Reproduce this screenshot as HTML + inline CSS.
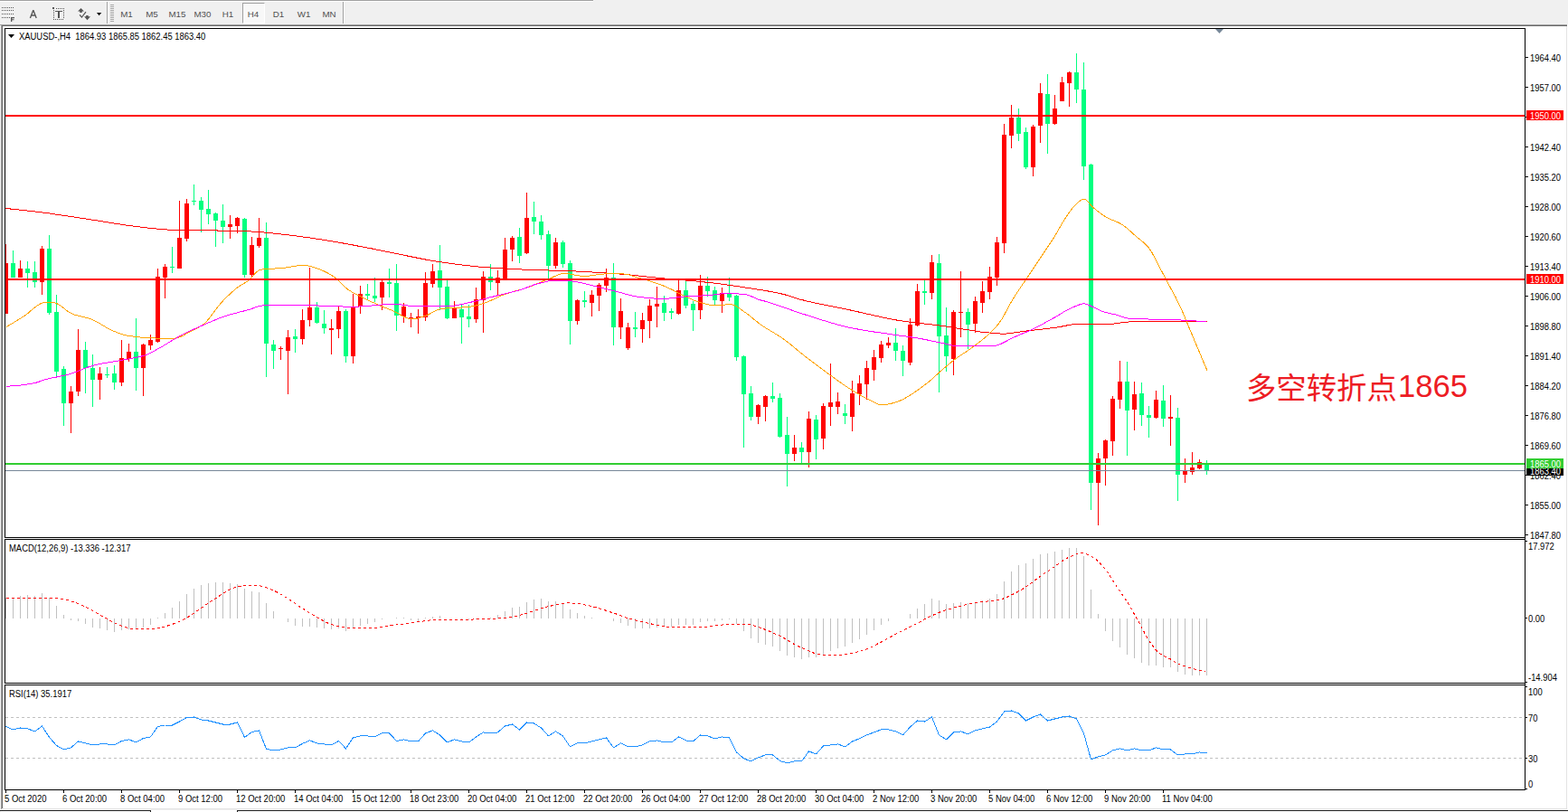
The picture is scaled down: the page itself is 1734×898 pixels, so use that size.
<!DOCTYPE html><html><head><meta charset="utf-8"><title>XAUUSD H4</title><style>
html,body{margin:0;padding:0;background:#fff;}
body{width:1734px;height:898px;position:relative;overflow:hidden;font-family:"Liberation Sans",sans-serif;}
.abs{position:absolute;}
.t{position:absolute;font-size:10px;line-height:10px;white-space:pre;color:#000;transform:scaleX(.94);transform-origin:0 0;}
.t2{transform:scaleX(.942);}
.t3{transform:scaleX(.95);}
.tb{position:absolute;font-size:9.7px;line-height:12px;white-space:pre;color:#505050;transform:scaleX(1.01);transform-origin:50% 0;text-align:center;width:28px;}
.w{color:#fff;}
svg{position:absolute;left:0;top:0;}

</style></head><body>
<div class="abs" style="left:0;top:0;width:1734px;height:27px;background:#f0f0f0"></div>
<div class="abs" style="left:0;top:0;width:656px;height:1px;background:#a0a0a0"></div>
<div class="abs" style="left:0;top:1px;width:656px;height:1px;background:#fff"></div>
<div class="abs" style="left:0;top:27px;width:1px;height:871px;background:#f0f0f0"></div>
<div class="abs" style="left:0;top:27px;width:1733px;height:1px;background:#a0a0a0"></div>
<div class="abs" style="left:1px;top:28px;width:1732px;height:1px;background:#696969"></div>
<div class="abs" style="left:1px;top:27px;width:1px;height:868px;background:#a0a0a0"></div>
<div class="abs" style="left:2px;top:28px;width:1px;height:866px;background:#696969"></div>
<div class="abs" style="left:1732px;top:29px;width:1px;height:866px;background:#e3e3e3"></div>
<div class="abs" style="left:3px;top:894px;width:1730px;height:1px;background:#e3e3e3"></div>
<div class="abs" style="left:0;top:895px;width:1734px;height:1px;background:#f0f0f0"></div>
<div class="abs" style="left:0;top:896px;width:167px;height:1px;background:#202020"></div>
<div class="abs" style="left:166px;top:896px;width:1px;height:2px;background:#202020"></div>
<div class="abs" style="left:262px;top:896px;width:1472px;height:1px;background:#202020"></div>
<div class="abs" style="left:262px;top:896px;width:1px;height:2px;background:#202020"></div>
<div class="abs" style="left:118px;top:2px;width:1px;height:24px;background:#a0a0a0"></div>
<div class="abs" style="left:119px;top:2px;width:1px;height:24px;background:#fff"></div>
<div class="abs" style="left:379px;top:2px;width:1px;height:24px;background:#a0a0a0"></div>
<div class="abs" style="left:380px;top:2px;width:1px;height:24px;background:#fff"></div>
<div class="abs" style="left:268px;top:3px;width:23px;height:21px;background:#f8f8f8;border:1px solid #a0a0a0;border-right-color:#fff;border-bottom-color:#fff"></div>
<div class="tb" style="left:126px;top:9.5px">M1</div>
<div class="tb" style="left:154px;top:9.5px">M5</div>
<div class="tb" style="left:182px;top:9.5px">M15</div>
<div class="tb" style="left:210px;top:9.5px">M30</div>
<div class="tb" style="left:238px;top:9.5px">H1</div>
<div class="tb" style="left:266px;top:9.5px">H4</div>
<div class="tb" style="left:294px;top:9.5px">D1</div>
<div class="tb" style="left:322px;top:9.5px">W1</div>
<div class="tb" style="left:350px;top:9.5px">MN</div>
<svg width="1734" height="898" viewBox="0 0 1734 898" shape-rendering="crispEdges">
<g fill="#555">
<rect x="122" y="5" width="4" height="1" fill="#a8a8a8"/>
<rect x="122" y="7" width="4" height="1" fill="#a8a8a8"/>
<rect x="122" y="9" width="4" height="1" fill="#a8a8a8"/>
<rect x="122" y="11" width="4" height="1" fill="#a8a8a8"/>
<rect x="122" y="13" width="4" height="1" fill="#a8a8a8"/>
<rect x="122" y="15" width="4" height="1" fill="#a8a8a8"/>
<rect x="122" y="17" width="4" height="1" fill="#a8a8a8"/>
<rect x="122" y="19" width="4" height="1" fill="#a8a8a8"/>
<rect x="122" y="21" width="4" height="1" fill="#a8a8a8"/>
<rect x="122" y="23" width="4" height="1" fill="#a8a8a8"/>
<rect x="2" y="8" width="1" height="1"/>
<rect x="4" y="8" width="1" height="1"/>
<rect x="6" y="8" width="1" height="1"/>
<rect x="8" y="8" width="1" height="1"/>
<rect x="10" y="8" width="1" height="1"/>
<rect x="12" y="8" width="1" height="1"/>
<rect x="14" y="8" width="1" height="1"/>
<rect x="2" y="11" width="1" height="1"/>
<rect x="4" y="11" width="1" height="1"/>
<rect x="6" y="11" width="1" height="1"/>
<rect x="8" y="11" width="1" height="1"/>
<rect x="10" y="11" width="1" height="1"/>
<rect x="12" y="11" width="1" height="1"/>
<rect x="14" y="11" width="1" height="1"/>
<rect x="2" y="15" width="1" height="1"/>
<rect x="4" y="15" width="1" height="1"/>
<rect x="6" y="15" width="1" height="1"/>
<rect x="8" y="15" width="1" height="1"/>
<rect x="10" y="15" width="1" height="1"/>
<rect x="12" y="15" width="1" height="1"/>
<rect x="14" y="15" width="1" height="1"/>
<rect x="2" y="19" width="1" height="1"/>
<rect x="4" y="19" width="1" height="1"/>
<rect x="6" y="19" width="1" height="1"/>
<rect x="8" y="19" width="1" height="1"/>
<rect x="10" y="19" width="1" height="1"/>
<path d="M12 19h4v1.2h-2.7v1h2.2v1.1h-2.2v1.7h-1.3z" shape-rendering="auto"/>
<rect x="62" y="9" width="1" height="1"/>
<rect x="64" y="9" width="1" height="1"/>
<rect x="66" y="9" width="1" height="1"/>
<rect x="68" y="9" width="1" height="1"/>
<rect x="70" y="9" width="1" height="1"/>
<rect x="59" y="21" width="1" height="1"/>
<rect x="61" y="21" width="1" height="1"/>
<rect x="63" y="21" width="1" height="1"/>
<rect x="65" y="21" width="1" height="1"/>
<rect x="67" y="21" width="1" height="1"/>
<rect x="69" y="21" width="1" height="1"/>
<rect x="59" y="11" width="1" height="1"/><rect x="70" y="11" width="1" height="1"/>
<rect x="59" y="13" width="1" height="1"/><rect x="70" y="13" width="1" height="1"/>
<rect x="59" y="15" width="1" height="1"/><rect x="70" y="15" width="1" height="1"/>
<rect x="59" y="17" width="1" height="1"/><rect x="70" y="17" width="1" height="1"/>
<rect x="59" y="19" width="1" height="1"/><rect x="70" y="19" width="1" height="1"/>
<rect x="58" y="8" width="2" height="2"/>
<rect x="61" y="12" width="8" height="1"/><rect x="64" y="13" width="2" height="7"/>
<path d="M86 12.5L89.5 9L93 12.5H90.7V14H88.3V12.5z M93.1 18.3L96.5 22.2L100 18.3H97.6V17H95.2V18.3z" shape-rendering="auto"/>
<polyline points="88,16.3 90.4,19 95,13.1" fill="none" stroke="#555" stroke-width="1.2" shape-rendering="auto"/>
<path d="M106.9 14h5.4l-2.7 3.2z" fill="#111" shape-rendering="auto"/>
</g>
<path d="M33.4 20L36.8 11.2L40.2 20M34.7 17H38.9" fill="none" stroke="#555" stroke-width="1.35" stroke-linejoin="bevel" shape-rendering="auto"/>
<path d="M1344 32h9l-4.5 5z" fill="#778899" shape-rendering="auto"/>
<rect x="6" y="270" width="1" height="77" fill="#ff0000"/>
<rect x="4" y="291" width="5" height="56" fill="#ff0000"/>
<rect x="14" y="277" width="1" height="30" fill="#00ff7f"/>
<rect x="12" y="291" width="5" height="16" fill="#00ff7f"/>
<rect x="22" y="288" width="1" height="19" fill="#ff0000"/>
<rect x="20" y="297" width="5" height="10" fill="#ff0000"/>
<rect x="30" y="289" width="1" height="29" fill="#00ff7f"/>
<rect x="28" y="297" width="5" height="5" fill="#00ff7f"/>
<rect x="38" y="289" width="1" height="29" fill="#00ff7f"/>
<rect x="36" y="301" width="5" height="11" fill="#00ff7f"/>
<rect x="46" y="272" width="1" height="54" fill="#ff0000"/>
<rect x="44" y="275" width="5" height="37" fill="#ff0000"/>
<rect x="54" y="260" width="1" height="88" fill="#00ff7f"/>
<rect x="52" y="275" width="5" height="71" fill="#00ff7f"/>
<rect x="62" y="326" width="1" height="90" fill="#00ff7f"/>
<rect x="60" y="345" width="5" height="66" fill="#00ff7f"/>
<rect x="70" y="405" width="1" height="66" fill="#00ff7f"/>
<rect x="68" y="408" width="5" height="38" fill="#00ff7f"/>
<rect x="78" y="427" width="1" height="52" fill="#ff0000"/>
<rect x="76" y="433" width="5" height="13" fill="#ff0000"/>
<rect x="86" y="364" width="1" height="74" fill="#ff0000"/>
<rect x="84" y="387" width="5" height="46" fill="#ff0000"/>
<rect x="94" y="378" width="1" height="57" fill="#00ff7f"/>
<rect x="92" y="387" width="5" height="20" fill="#00ff7f"/>
<rect x="102" y="392" width="1" height="58" fill="#00ff7f"/>
<rect x="100" y="407" width="5" height="13" fill="#00ff7f"/>
<rect x="110" y="406" width="1" height="36" fill="#ff0000"/>
<rect x="108" y="413" width="5" height="7" fill="#ff0000"/>
<rect x="118" y="406" width="1" height="12" fill="#00ff7f"/>
<rect x="116" y="414" width="5" height="1" fill="#00ff7f"/>
<rect x="126" y="404" width="1" height="27" fill="#00ff7f"/>
<rect x="124" y="413" width="5" height="10" fill="#00ff7f"/>
<rect x="134" y="376" width="1" height="51" fill="#ff0000"/>
<rect x="132" y="396" width="5" height="27" fill="#ff0000"/>
<rect x="142" y="380" width="1" height="20" fill="#ff0000"/>
<rect x="140" y="389" width="5" height="8" fill="#ff0000"/>
<rect x="150" y="352" width="1" height="80" fill="#00ff7f"/>
<rect x="148" y="389" width="5" height="18" fill="#00ff7f"/>
<rect x="158" y="380" width="1" height="58" fill="#ff0000"/>
<rect x="156" y="381" width="5" height="26" fill="#ff0000"/>
<rect x="166" y="370" width="1" height="17" fill="#ff0000"/>
<rect x="164" y="376" width="5" height="6" fill="#ff0000"/>
<rect x="174" y="297" width="1" height="82" fill="#ff0000"/>
<rect x="172" y="306" width="5" height="72" fill="#ff0000"/>
<rect x="182" y="292" width="1" height="38" fill="#ff0000"/>
<rect x="180" y="295" width="5" height="12" fill="#ff0000"/>
<rect x="190" y="273" width="1" height="29" fill="#00ff7f"/>
<rect x="188" y="295" width="5" height="1" fill="#00ff7f"/>
<rect x="198" y="222" width="1" height="75" fill="#ff0000"/>
<rect x="196" y="263" width="5" height="34" fill="#ff0000"/>
<rect x="206" y="220" width="1" height="47" fill="#ff0000"/>
<rect x="204" y="225" width="5" height="39" fill="#ff0000"/>
<rect x="214" y="204" width="1" height="23" fill="#00ff7f"/>
<rect x="212" y="222" width="5" height="1" fill="#00ff7f"/>
<rect x="222" y="218" width="1" height="39" fill="#00ff7f"/>
<rect x="220" y="222" width="5" height="10" fill="#00ff7f"/>
<rect x="230" y="210" width="1" height="38" fill="#00ff7f"/>
<rect x="228" y="231" width="5" height="6" fill="#00ff7f"/>
<rect x="238" y="235" width="1" height="38" fill="#00ff7f"/>
<rect x="236" y="236" width="5" height="8" fill="#00ff7f"/>
<rect x="246" y="226" width="1" height="43" fill="#00ff7f"/>
<rect x="244" y="244" width="5" height="7" fill="#00ff7f"/>
<rect x="254" y="238" width="1" height="26" fill="#ff0000"/>
<rect x="252" y="248" width="5" height="3" fill="#ff0000"/>
<rect x="262" y="240" width="1" height="18" fill="#ff0000"/>
<rect x="260" y="241" width="5" height="9" fill="#ff0000"/>
<rect x="270" y="241" width="1" height="66" fill="#00ff7f"/>
<rect x="268" y="242" width="5" height="62" fill="#00ff7f"/>
<rect x="278" y="262" width="1" height="45" fill="#ff0000"/>
<rect x="276" y="271" width="5" height="33" fill="#ff0000"/>
<rect x="286" y="241" width="1" height="33" fill="#ff0000"/>
<rect x="284" y="263" width="5" height="9" fill="#ff0000"/>
<rect x="294" y="246" width="1" height="171" fill="#00ff7f"/>
<rect x="292" y="263" width="5" height="117" fill="#00ff7f"/>
<rect x="302" y="376" width="1" height="32" fill="#00ff7f"/>
<rect x="300" y="381" width="5" height="7" fill="#00ff7f"/>
<rect x="310" y="383" width="1" height="15" fill="#ff0000"/>
<rect x="308" y="385" width="5" height="1" fill="#ff0000"/>
<rect x="318" y="365" width="1" height="71" fill="#ff0000"/>
<rect x="316" y="373" width="5" height="15" fill="#ff0000"/>
<rect x="326" y="364" width="1" height="26" fill="#00ff7f"/>
<rect x="324" y="372" width="5" height="3" fill="#00ff7f"/>
<rect x="334" y="342" width="1" height="39" fill="#ff0000"/>
<rect x="332" y="354" width="5" height="21" fill="#ff0000"/>
<rect x="342" y="296" width="1" height="65" fill="#ff0000"/>
<rect x="340" y="340" width="5" height="14" fill="#ff0000"/>
<rect x="350" y="334" width="1" height="24" fill="#00ff7f"/>
<rect x="348" y="340" width="5" height="17" fill="#00ff7f"/>
<rect x="358" y="343" width="1" height="26" fill="#00ff7f"/>
<rect x="356" y="358" width="5" height="5" fill="#00ff7f"/>
<rect x="366" y="353" width="1" height="39" fill="#ff0000"/>
<rect x="364" y="363" width="5" height="2" fill="#ff0000"/>
<rect x="374" y="338" width="1" height="36" fill="#ff0000"/>
<rect x="372" y="344" width="5" height="20" fill="#ff0000"/>
<rect x="382" y="342" width="1" height="59" fill="#00ff7f"/>
<rect x="380" y="344" width="5" height="50" fill="#00ff7f"/>
<rect x="390" y="325" width="1" height="77" fill="#ff0000"/>
<rect x="388" y="339" width="5" height="55" fill="#ff0000"/>
<rect x="398" y="316" width="1" height="31" fill="#ff0000"/>
<rect x="396" y="325" width="5" height="14" fill="#ff0000"/>
<rect x="406" y="314" width="1" height="17" fill="#00ff7f"/>
<rect x="404" y="325" width="5" height="2" fill="#00ff7f"/>
<rect x="414" y="307" width="1" height="27" fill="#00ff7f"/>
<rect x="412" y="327" width="5" height="3" fill="#00ff7f"/>
<rect x="422" y="310" width="1" height="33" fill="#ff0000"/>
<rect x="420" y="312" width="5" height="17" fill="#ff0000"/>
<rect x="430" y="297" width="1" height="32" fill="#00ff7f"/>
<rect x="428" y="312" width="5" height="2" fill="#00ff7f"/>
<rect x="438" y="292" width="1" height="74" fill="#00ff7f"/>
<rect x="436" y="313" width="5" height="36" fill="#00ff7f"/>
<rect x="446" y="335" width="1" height="22" fill="#ff0000"/>
<rect x="444" y="339" width="5" height="11" fill="#ff0000"/>
<rect x="454" y="346" width="1" height="16" fill="#ff0000"/>
<rect x="452" y="351" width="5" height="2" fill="#ff0000"/>
<rect x="462" y="342" width="1" height="27" fill="#ff0000"/>
<rect x="460" y="350" width="5" height="2" fill="#ff0000"/>
<rect x="470" y="301" width="1" height="54" fill="#ff0000"/>
<rect x="468" y="313" width="5" height="38" fill="#ff0000"/>
<rect x="478" y="292" width="1" height="26" fill="#ff0000"/>
<rect x="476" y="300" width="5" height="14" fill="#ff0000"/>
<rect x="486" y="271" width="1" height="72" fill="#00ff7f"/>
<rect x="484" y="299" width="5" height="19" fill="#00ff7f"/>
<rect x="494" y="310" width="1" height="43" fill="#00ff7f"/>
<rect x="492" y="317" width="5" height="35" fill="#00ff7f"/>
<rect x="502" y="333" width="1" height="19" fill="#ff0000"/>
<rect x="500" y="341" width="5" height="11" fill="#ff0000"/>
<rect x="510" y="337" width="1" height="43" fill="#00ff7f"/>
<rect x="508" y="342" width="5" height="9" fill="#00ff7f"/>
<rect x="518" y="337" width="1" height="25" fill="#00ff7f"/>
<rect x="516" y="350" width="5" height="3" fill="#00ff7f"/>
<rect x="526" y="318" width="1" height="39" fill="#ff0000"/>
<rect x="524" y="331" width="5" height="22" fill="#ff0000"/>
<rect x="534" y="300" width="1" height="68" fill="#ff0000"/>
<rect x="532" y="306" width="5" height="26" fill="#ff0000"/>
<rect x="542" y="292" width="1" height="29" fill="#00ff7f"/>
<rect x="540" y="306" width="5" height="6" fill="#00ff7f"/>
<rect x="550" y="299" width="1" height="28" fill="#ff0000"/>
<rect x="548" y="307" width="5" height="6" fill="#ff0000"/>
<rect x="558" y="263" width="1" height="47" fill="#ff0000"/>
<rect x="556" y="276" width="5" height="34" fill="#ff0000"/>
<rect x="566" y="261" width="1" height="28" fill="#ff0000"/>
<rect x="564" y="263" width="5" height="13" fill="#ff0000"/>
<rect x="574" y="252" width="1" height="39" fill="#00ff7f"/>
<rect x="572" y="262" width="5" height="21" fill="#00ff7f"/>
<rect x="582" y="213" width="1" height="68" fill="#ff0000"/>
<rect x="580" y="241" width="5" height="39" fill="#ff0000"/>
<rect x="590" y="223" width="1" height="36" fill="#00ff7f"/>
<rect x="588" y="240" width="5" height="5" fill="#00ff7f"/>
<rect x="598" y="238" width="1" height="27" fill="#00ff7f"/>
<rect x="596" y="245" width="5" height="15" fill="#00ff7f"/>
<rect x="606" y="255" width="1" height="53" fill="#00ff7f"/>
<rect x="604" y="259" width="5" height="35" fill="#00ff7f"/>
<rect x="614" y="263" width="1" height="34" fill="#ff0000"/>
<rect x="612" y="268" width="5" height="26" fill="#ff0000"/>
<rect x="622" y="266" width="1" height="30" fill="#00ff7f"/>
<rect x="620" y="268" width="5" height="24" fill="#00ff7f"/>
<rect x="630" y="288" width="1" height="93" fill="#00ff7f"/>
<rect x="628" y="291" width="5" height="64" fill="#00ff7f"/>
<rect x="638" y="331" width="1" height="28" fill="#ff0000"/>
<rect x="636" y="332" width="5" height="23" fill="#ff0000"/>
<rect x="646" y="322" width="1" height="18" fill="#00ff7f"/>
<rect x="644" y="332" width="5" height="2" fill="#00ff7f"/>
<rect x="654" y="321" width="1" height="29" fill="#ff0000"/>
<rect x="652" y="326" width="5" height="9" fill="#ff0000"/>
<rect x="662" y="313" width="1" height="31" fill="#ff0000"/>
<rect x="660" y="315" width="5" height="12" fill="#ff0000"/>
<rect x="670" y="297" width="1" height="26" fill="#ff0000"/>
<rect x="668" y="307" width="5" height="9" fill="#ff0000"/>
<rect x="678" y="291" width="1" height="91" fill="#00ff7f"/>
<rect x="676" y="307" width="5" height="55" fill="#00ff7f"/>
<rect x="686" y="330" width="1" height="45" fill="#ff0000"/>
<rect x="684" y="344" width="5" height="18" fill="#ff0000"/>
<rect x="694" y="357" width="1" height="30" fill="#ff0000"/>
<rect x="692" y="362" width="5" height="23" fill="#ff0000"/>
<rect x="702" y="345" width="1" height="28" fill="#00ff7f"/>
<rect x="700" y="362" width="5" height="2" fill="#00ff7f"/>
<rect x="710" y="346" width="1" height="33" fill="#ff0000"/>
<rect x="708" y="354" width="5" height="10" fill="#ff0000"/>
<rect x="718" y="331" width="1" height="43" fill="#ff0000"/>
<rect x="716" y="338" width="5" height="17" fill="#ff0000"/>
<rect x="726" y="317" width="1" height="45" fill="#ff0000"/>
<rect x="724" y="336" width="5" height="3" fill="#ff0000"/>
<rect x="734" y="327" width="1" height="28" fill="#00ff7f"/>
<rect x="732" y="335" width="5" height="11" fill="#00ff7f"/>
<rect x="742" y="341" width="1" height="12" fill="#00ff7f"/>
<rect x="740" y="344" width="5" height="2" fill="#00ff7f"/>
<rect x="750" y="309" width="1" height="39" fill="#ff0000"/>
<rect x="748" y="321" width="5" height="26" fill="#ff0000"/>
<rect x="758" y="310" width="1" height="31" fill="#00ff7f"/>
<rect x="756" y="321" width="5" height="17" fill="#00ff7f"/>
<rect x="766" y="333" width="1" height="33" fill="#00ff7f"/>
<rect x="764" y="336" width="5" height="7" fill="#00ff7f"/>
<rect x="774" y="304" width="1" height="49" fill="#ff0000"/>
<rect x="772" y="316" width="5" height="27" fill="#ff0000"/>
<rect x="782" y="306" width="1" height="22" fill="#00ff7f"/>
<rect x="780" y="316" width="5" height="6" fill="#00ff7f"/>
<rect x="790" y="317" width="1" height="21" fill="#00ff7f"/>
<rect x="788" y="321" width="5" height="11" fill="#00ff7f"/>
<rect x="798" y="318" width="1" height="28" fill="#ff0000"/>
<rect x="796" y="324" width="5" height="9" fill="#ff0000"/>
<rect x="806" y="307" width="1" height="26" fill="#00ff7f"/>
<rect x="804" y="324" width="5" height="5" fill="#00ff7f"/>
<rect x="814" y="326" width="1" height="73" fill="#00ff7f"/>
<rect x="812" y="327" width="5" height="68" fill="#00ff7f"/>
<rect x="822" y="393" width="1" height="102" fill="#00ff7f"/>
<rect x="820" y="394" width="5" height="42" fill="#00ff7f"/>
<rect x="830" y="427" width="1" height="38" fill="#00ff7f"/>
<rect x="828" y="435" width="5" height="26" fill="#00ff7f"/>
<rect x="838" y="447" width="1" height="22" fill="#ff0000"/>
<rect x="836" y="448" width="5" height="13" fill="#ff0000"/>
<rect x="846" y="437" width="1" height="29" fill="#ff0000"/>
<rect x="844" y="438" width="5" height="12" fill="#ff0000"/>
<rect x="854" y="423" width="1" height="22" fill="#00ff7f"/>
<rect x="852" y="438" width="5" height="3" fill="#00ff7f"/>
<rect x="862" y="435" width="1" height="49" fill="#00ff7f"/>
<rect x="860" y="440" width="5" height="43" fill="#00ff7f"/>
<rect x="870" y="461" width="1" height="77" fill="#00ff7f"/>
<rect x="868" y="481" width="5" height="21" fill="#00ff7f"/>
<rect x="878" y="481" width="1" height="29" fill="#ff0000"/>
<rect x="876" y="495" width="5" height="7" fill="#ff0000"/>
<rect x="886" y="489" width="1" height="23" fill="#00ff7f"/>
<rect x="884" y="495" width="5" height="5" fill="#00ff7f"/>
<rect x="894" y="455" width="1" height="62" fill="#ff0000"/>
<rect x="892" y="463" width="5" height="37" fill="#ff0000"/>
<rect x="902" y="459" width="1" height="49" fill="#00ff7f"/>
<rect x="900" y="464" width="5" height="22" fill="#00ff7f"/>
<rect x="910" y="446" width="1" height="51" fill="#ff0000"/>
<rect x="908" y="449" width="5" height="36" fill="#ff0000"/>
<rect x="918" y="402" width="1" height="69" fill="#ff0000"/>
<rect x="916" y="445" width="5" height="5" fill="#ff0000"/>
<rect x="926" y="434" width="1" height="24" fill="#ff0000"/>
<rect x="924" y="444" width="5" height="6" fill="#ff0000"/>
<rect x="934" y="447" width="1" height="22" fill="#00ff7f"/>
<rect x="932" y="457" width="5" height="3" fill="#00ff7f"/>
<rect x="942" y="421" width="1" height="56" fill="#ff0000"/>
<rect x="940" y="435" width="5" height="26" fill="#ff0000"/>
<rect x="950" y="415" width="1" height="33" fill="#ff0000"/>
<rect x="948" y="424" width="5" height="12" fill="#ff0000"/>
<rect x="958" y="399" width="1" height="43" fill="#ff0000"/>
<rect x="956" y="407" width="5" height="18" fill="#ff0000"/>
<rect x="966" y="387" width="1" height="34" fill="#ff0000"/>
<rect x="964" y="395" width="5" height="14" fill="#ff0000"/>
<rect x="974" y="377" width="1" height="24" fill="#ff0000"/>
<rect x="972" y="381" width="5" height="15" fill="#ff0000"/>
<rect x="982" y="373" width="1" height="12" fill="#ff0000"/>
<rect x="980" y="379" width="5" height="3" fill="#ff0000"/>
<rect x="990" y="363" width="1" height="36" fill="#00ff7f"/>
<rect x="988" y="379" width="5" height="9" fill="#00ff7f"/>
<rect x="998" y="382" width="1" height="34" fill="#00ff7f"/>
<rect x="996" y="388" width="5" height="11" fill="#00ff7f"/>
<rect x="1006" y="352" width="1" height="52" fill="#ff0000"/>
<rect x="1004" y="359" width="5" height="42" fill="#ff0000"/>
<rect x="1014" y="314" width="1" height="47" fill="#ff0000"/>
<rect x="1012" y="322" width="5" height="38" fill="#ff0000"/>
<rect x="1022" y="310" width="1" height="27" fill="#00ff7f"/>
<rect x="1020" y="322" width="5" height="2" fill="#00ff7f"/>
<rect x="1030" y="282" width="1" height="49" fill="#ff0000"/>
<rect x="1028" y="290" width="5" height="34" fill="#ff0000"/>
<rect x="1038" y="281" width="1" height="153" fill="#00ff7f"/>
<rect x="1036" y="291" width="5" height="81" fill="#00ff7f"/>
<rect x="1046" y="340" width="1" height="71" fill="#00ff7f"/>
<rect x="1044" y="371" width="5" height="23" fill="#00ff7f"/>
<rect x="1054" y="343" width="1" height="72" fill="#ff0000"/>
<rect x="1052" y="345" width="5" height="52" fill="#ff0000"/>
<rect x="1062" y="300" width="1" height="73" fill="#ff0000"/>
<rect x="1060" y="345" width="5" height="1" fill="#ff0000"/>
<rect x="1070" y="341" width="1" height="45" fill="#00ff7f"/>
<rect x="1068" y="345" width="5" height="14" fill="#00ff7f"/>
<rect x="1078" y="328" width="1" height="40" fill="#ff0000"/>
<rect x="1076" y="333" width="5" height="25" fill="#ff0000"/>
<rect x="1086" y="311" width="1" height="35" fill="#ff0000"/>
<rect x="1084" y="322" width="5" height="13" fill="#ff0000"/>
<rect x="1094" y="295" width="1" height="36" fill="#ff0000"/>
<rect x="1092" y="306" width="5" height="17" fill="#ff0000"/>
<rect x="1102" y="262" width="1" height="54" fill="#ff0000"/>
<rect x="1100" y="268" width="5" height="39" fill="#ff0000"/>
<rect x="1110" y="137" width="1" height="143" fill="#ff0000"/>
<rect x="1108" y="149" width="5" height="120" fill="#ff0000"/>
<rect x="1118" y="116" width="1" height="48" fill="#ff0000"/>
<rect x="1116" y="130" width="5" height="20" fill="#ff0000"/>
<rect x="1126" y="120" width="1" height="36" fill="#00ff7f"/>
<rect x="1124" y="130" width="5" height="18" fill="#00ff7f"/>
<rect x="1134" y="141" width="1" height="46" fill="#00ff7f"/>
<rect x="1132" y="146" width="5" height="39" fill="#00ff7f"/>
<rect x="1142" y="138" width="1" height="57" fill="#ff0000"/>
<rect x="1140" y="140" width="5" height="45" fill="#ff0000"/>
<rect x="1150" y="92" width="1" height="66" fill="#ff0000"/>
<rect x="1148" y="103" width="5" height="36" fill="#ff0000"/>
<rect x="1158" y="82" width="1" height="88" fill="#00ff7f"/>
<rect x="1156" y="104" width="5" height="33" fill="#00ff7f"/>
<rect x="1166" y="105" width="1" height="33" fill="#ff0000"/>
<rect x="1164" y="120" width="5" height="17" fill="#ff0000"/>
<rect x="1174" y="85" width="1" height="27" fill="#ff0000"/>
<rect x="1172" y="91" width="5" height="21" fill="#ff0000"/>
<rect x="1182" y="79" width="1" height="39" fill="#ff0000"/>
<rect x="1180" y="80" width="5" height="12" fill="#ff0000"/>
<rect x="1190" y="59" width="1" height="55" fill="#00ff7f"/>
<rect x="1188" y="80" width="5" height="19" fill="#00ff7f"/>
<rect x="1198" y="69" width="1" height="130" fill="#00ff7f"/>
<rect x="1196" y="99" width="5" height="85" fill="#00ff7f"/>
<rect x="1206" y="181" width="1" height="383" fill="#00ff7f"/>
<rect x="1204" y="182" width="5" height="352" fill="#00ff7f"/>
<rect x="1214" y="501" width="1" height="80" fill="#ff0000"/>
<rect x="1212" y="507" width="5" height="27" fill="#ff0000"/>
<rect x="1222" y="486" width="1" height="51" fill="#ff0000"/>
<rect x="1220" y="487" width="5" height="20" fill="#ff0000"/>
<rect x="1230" y="438" width="1" height="66" fill="#ff0000"/>
<rect x="1228" y="441" width="5" height="47" fill="#ff0000"/>
<rect x="1238" y="399" width="1" height="53" fill="#ff0000"/>
<rect x="1236" y="422" width="5" height="20" fill="#ff0000"/>
<rect x="1246" y="400" width="1" height="104" fill="#00ff7f"/>
<rect x="1244" y="422" width="5" height="32" fill="#00ff7f"/>
<rect x="1254" y="422" width="1" height="54" fill="#ff0000"/>
<rect x="1252" y="436" width="5" height="17" fill="#ff0000"/>
<rect x="1262" y="423" width="1" height="48" fill="#00ff7f"/>
<rect x="1260" y="435" width="5" height="24" fill="#00ff7f"/>
<rect x="1270" y="449" width="1" height="35" fill="#00ff7f"/>
<rect x="1268" y="459" width="5" height="3" fill="#00ff7f"/>
<rect x="1278" y="432" width="1" height="31" fill="#ff0000"/>
<rect x="1276" y="442" width="5" height="20" fill="#ff0000"/>
<rect x="1286" y="426" width="1" height="46" fill="#00ff7f"/>
<rect x="1284" y="443" width="5" height="20" fill="#00ff7f"/>
<rect x="1294" y="437" width="1" height="56" fill="#ff0000"/>
<rect x="1292" y="461" width="5" height="2" fill="#ff0000"/>
<rect x="1302" y="451" width="1" height="103" fill="#00ff7f"/>
<rect x="1300" y="462" width="5" height="63" fill="#00ff7f"/>
<rect x="1310" y="507" width="1" height="27" fill="#ff0000"/>
<rect x="1308" y="520" width="5" height="5" fill="#ff0000"/>
<rect x="1318" y="500" width="1" height="25" fill="#ff0000"/>
<rect x="1316" y="517" width="5" height="5" fill="#ff0000"/>
<rect x="1326" y="508" width="1" height="11" fill="#ff0000"/>
<rect x="1324" y="511" width="5" height="7" fill="#ff0000"/>
<rect x="1334" y="509" width="1" height="16" fill="#00ff7f"/>
<rect x="1332" y="513" width="5" height="8" fill="#00ff7f"/>
<polyline points="6.5,230.5 9.5,230.8 12.5,231.1 15.5,231.4 18.5,231.7 21.5,232.1 24.5,232.4 27.5,232.7 30.5,233.1 33.5,233.4 36.5,233.8 39.5,234.1 42.5,234.5 45.5,234.9 48.5,235.2 51.5,235.6 54.5,236.0 57.5,236.4 60.5,236.9 63.5,237.3 66.5,237.7 69.5,238.2 72.5,238.6 75.5,239.1 78.5,239.5 81.5,240.0 84.5,240.4 87.5,240.9 90.5,241.4 93.5,241.8 96.5,242.3 99.5,242.7 102.5,243.2 105.5,243.7 108.5,244.1 111.5,244.6 114.5,245.1 117.5,245.6 120.5,246.1 123.5,246.6 126.5,247.1 129.5,247.6 132.5,248.0 135.5,248.5 138.5,248.9 141.5,249.4 144.5,249.8 147.5,250.1 150.5,250.5 153.5,250.8 156.5,251.2 159.5,251.6 162.5,251.9 165.5,252.3 168.5,252.6 171.5,252.9 174.5,253.2 177.5,253.5 180.5,253.7 183.5,253.9 186.5,254.1 189.5,254.2 192.5,254.2 195.5,254.3 198.5,254.4 201.5,254.4 204.5,254.4 207.5,254.5 210.5,254.5 213.5,254.5 216.5,254.6 219.5,254.6 222.5,254.7 225.5,254.7 228.5,254.8 231.5,254.8 234.5,254.9 237.5,254.9 240.5,255.0 243.5,255.0 246.5,255.1 249.5,255.1 252.5,255.2 255.5,255.3 258.5,255.4 261.5,255.4 264.5,255.5 267.5,255.6 270.5,255.7 273.5,255.8 276.5,255.9 279.5,256.1 282.5,256.3 285.5,256.5 288.5,256.8 291.5,257.0 294.5,257.3 297.5,257.6 300.5,257.9 303.5,258.2 306.5,258.5 309.5,258.8 312.5,259.2 315.5,259.5 318.5,259.9 321.5,260.2 324.5,260.6 327.5,261.0 330.5,261.4 333.5,261.8 336.5,262.2 339.5,262.6 342.5,263.0 345.5,263.5 348.5,263.9 351.5,264.3 354.5,264.8 357.5,265.3 360.5,265.7 363.5,266.2 366.5,266.7 369.5,267.2 372.5,267.8 375.5,268.3 378.5,268.8 381.5,269.4 384.5,269.9 387.5,270.5 390.5,271.0 393.5,271.6 396.5,272.2 399.5,272.7 402.5,273.3 405.5,273.9 408.5,274.4 411.5,275.0 414.5,275.6 417.5,276.3 420.5,276.9 423.5,277.5 426.5,278.1 429.5,278.7 432.5,279.3 435.5,279.9 438.5,280.5 441.5,281.1 444.5,281.7 447.5,282.4 450.5,283.0 453.5,283.6 456.5,284.2 459.5,284.8 462.5,285.4 465.5,286.0 468.5,286.6 471.5,287.2 474.5,287.7 477.5,288.2 480.5,288.7 483.5,289.2 486.5,289.7 489.5,290.1 492.5,290.5 495.5,291.0 498.5,291.4 501.5,291.8 504.5,292.2 507.5,292.6 510.5,293.0 513.5,293.4 516.5,293.7 519.5,294.0 522.5,294.4 525.5,294.7 528.5,295.0 531.5,295.2 534.5,295.5 537.5,295.7 540.5,295.9 543.5,296.2 546.5,296.4 549.5,296.6 552.5,296.8 555.5,297.0 558.5,297.1 561.5,297.3 564.5,297.5 567.5,297.6 570.5,297.8 573.5,297.9 576.5,298.0 579.5,298.1 582.5,298.3 585.5,298.4 588.5,298.5 591.5,298.6 594.5,298.7 597.5,298.7 600.5,298.8 603.5,298.9 606.5,299.0 609.5,299.1 612.5,299.2 615.5,299.3 618.5,299.3 621.5,299.4 624.5,299.5 627.5,299.7 630.5,299.8 633.5,299.9 636.5,300.0 639.5,300.2 642.5,300.3 645.5,300.5 648.5,300.6 651.5,300.8 654.5,301.0 657.5,301.1 660.5,301.3 663.5,301.5 666.5,301.7 669.5,301.9 672.5,302.1 675.5,302.3 678.5,302.5 681.5,302.8 684.5,303.0 687.5,303.2 690.5,303.5 693.5,303.7 696.5,304.0 699.5,304.3 702.5,304.6 705.5,305.0 708.5,305.3 711.5,305.6 714.5,305.9 717.5,306.3 720.5,306.6 723.5,306.9 726.5,307.2 729.5,307.5 732.5,307.8 735.5,308.1 738.5,308.4 741.5,308.6 744.5,308.9 747.5,309.1 750.5,309.4 753.5,309.6 756.5,309.9 759.5,310.1 762.5,310.4 765.5,310.7 768.5,310.9 771.5,311.2 774.5,311.5 777.5,311.8 780.5,312.1 783.5,312.4 786.5,312.7 789.5,313.1 792.5,313.5 795.5,313.8 798.5,314.2 801.5,314.6 804.5,315.1 807.5,315.5 810.5,315.9 813.5,316.4 816.5,316.8 819.5,317.3 822.5,317.7 825.5,318.2 828.5,318.7 831.5,319.1 834.5,319.6 837.5,320.1 840.5,320.5 843.5,321.0 846.5,321.5 849.5,322.0 852.5,322.6 855.5,323.1 858.5,323.7 861.5,324.4 864.5,325.0 867.5,325.7 870.5,326.6 873.5,327.6 876.5,328.6 879.5,329.6 882.5,330.5 885.5,331.3 888.5,332.0 891.5,332.8 894.5,333.5 897.5,334.1 900.5,334.8 903.5,335.5 906.5,336.1 909.5,336.7 912.5,337.3 915.5,337.9 918.5,338.5 921.5,339.1 924.5,339.7 927.5,340.3 930.5,340.9 933.5,341.5 936.5,342.2 939.5,342.8 942.5,343.4 945.5,344.1 948.5,344.8 951.5,345.4 954.5,346.1 957.5,346.8 960.5,347.5 963.5,348.2 966.5,348.9 969.5,349.5 972.5,350.2 975.5,350.9 978.5,351.5 981.5,352.1 984.5,352.7 987.5,353.3 990.5,353.8 993.5,354.4 996.5,354.8 999.5,355.3 1002.5,355.7 1005.5,356.1 1008.5,356.5 1011.5,356.8 1014.5,357.2 1017.5,357.5 1020.5,357.9 1023.5,358.2 1026.5,358.6 1029.5,358.9 1032.5,359.2 1035.5,359.6 1038.5,359.9 1041.5,360.3 1044.5,360.8 1047.5,361.2 1050.5,361.7 1053.5,362.2 1056.5,362.7 1059.5,363.2 1062.5,363.6 1065.5,364.1 1068.5,364.6 1071.5,365.0 1074.5,365.5 1077.5,366.0 1080.5,366.5 1083.5,366.9 1086.5,367.3 1089.5,367.6 1092.5,367.9 1095.5,368.2 1098.5,368.5 1101.5,368.7 1104.5,368.9 1107.5,369.1 1110.5,369.1 1113.5,369.0 1116.5,368.7 1119.5,368.3 1122.5,367.8 1125.5,367.3 1128.5,366.9 1131.5,366.5 1134.5,366.1 1137.5,365.8 1140.5,365.4 1143.5,365.1 1146.5,364.8 1149.5,364.4 1152.5,364.1 1155.5,363.7 1158.5,363.4 1161.5,363.0 1164.5,362.6 1167.5,362.2 1170.5,361.7 1173.5,361.2 1176.5,360.6 1179.5,360.0 1182.5,359.4 1185.5,359.0 1188.5,358.5 1191.5,358.3 1194.5,358.1 1197.5,358.1 1200.5,358.2 1203.5,358.3 1206.5,358.4 1209.5,358.6 1212.5,358.7 1215.5,358.8 1218.5,358.9 1221.5,358.9 1224.5,358.8 1227.5,358.5 1230.5,358.2 1233.5,357.8 1236.5,357.4 1239.5,356.9 1242.5,356.5 1245.5,356.2 1248.5,356.0 1251.5,355.9 1254.5,355.8 1257.5,355.7 1260.5,355.7 1263.5,355.6 1266.5,355.6 1269.5,355.5 1272.5,355.5 1275.5,355.5 1278.5,355.4 1281.5,355.4 1284.5,355.4 1287.5,355.3 1290.5,355.3 1293.5,355.3 1296.5,355.2 1299.5,355.2 1302.5,355.2 1305.5,355.2 1308.5,355.1 1311.5,355.1 1314.5,355.1 1317.5,355.1 1320.5,355.1 1323.5,355.0 1326.5,355.0 1329.5,355.0 1332.5,355.0 1334.5,355.0" fill="none" stroke="#ff0000" stroke-width="1" />
<polyline points="7.0,361.6 10.0,359.8 13.0,358.0 16.0,356.2 19.0,354.3 22.0,352.5 25.0,350.6 28.0,348.6 31.0,346.3 34.0,343.7 37.0,341.2 40.0,338.8 43.0,336.8 46.0,335.3 49.0,334.5 52.0,334.4 55.0,334.4 58.0,334.4 61.0,334.9 64.0,336.2 67.0,338.2 70.0,340.4 73.0,342.8 76.0,345.0 79.0,346.7 82.0,347.9 85.0,348.8 88.0,349.6 91.0,350.3 94.0,351.0 97.0,351.8 100.0,352.7 103.0,353.9 106.0,355.4 109.0,357.0 112.0,358.8 115.0,360.6 118.0,362.4 121.0,364.1 124.0,365.5 127.0,366.7 130.0,367.9 133.0,369.0 136.0,370.0 139.0,370.8 142.0,371.4 145.0,371.8 148.0,372.2 151.0,372.6 154.0,372.9 157.0,373.2 160.0,373.4 163.0,373.6 166.0,373.8 169.0,373.9 172.0,374.0 175.0,374.1 178.0,374.1 181.0,374.1 184.0,374.1 187.0,374.1 190.0,374.1 193.0,374.1 196.0,373.7 199.0,372.7 202.0,371.4 205.0,369.7 208.0,368.0 211.0,366.3 214.0,364.7 217.0,363.3 220.0,361.7 223.0,359.9 226.0,357.8 229.0,354.9 232.0,351.3 235.0,347.3 238.0,343.2 241.0,339.2 244.0,335.5 247.0,332.3 250.0,329.2 253.0,326.3 256.0,323.5 259.0,320.9 262.0,318.4 265.0,316.3 268.0,314.5 271.0,312.7 274.0,310.8 277.0,308.3 280.0,304.9 283.0,301.5 286.0,299.0 289.0,298.2 292.0,297.8 295.0,297.5 298.0,297.3 301.0,297.2 304.0,297.0 307.0,296.8 310.0,296.6 313.0,296.4 316.0,296.0 319.0,295.5 322.0,295.0 325.0,294.4 328.0,294.0 331.0,293.6 334.0,293.4 337.0,293.5 340.0,293.9 343.0,294.5 346.0,295.4 349.0,296.3 352.0,297.2 355.0,298.4 358.0,299.7 361.0,301.2 364.0,302.8 367.0,304.6 370.0,306.5 373.0,308.9 376.0,311.8 379.0,314.9 382.0,317.8 385.0,320.3 388.0,322.2 391.0,324.0 394.0,325.6 397.0,327.1 400.0,328.6 403.0,330.1 406.0,331.5 409.0,332.9 412.0,334.3 415.0,335.6 418.0,336.9 421.0,338.2 424.0,339.5 427.0,340.7 430.0,341.9 433.0,343.1 436.0,344.5 439.0,346.0 442.0,347.7 445.0,349.4 448.0,350.8 451.0,352.0 454.0,352.7 457.0,352.8 460.0,352.4 463.0,351.7 466.0,350.8 469.0,349.8 472.0,348.7 475.0,347.3 478.0,345.6 481.0,343.9 484.0,342.5 487.0,341.6 490.0,341.3 493.0,341.0 496.0,340.7 499.0,340.5 502.0,340.4 505.0,340.3 508.0,340.1 511.0,340.0 514.0,339.8 517.0,339.5 520.0,339.2 523.0,338.8 526.0,338.1 529.0,337.3 532.0,336.3 535.0,335.3 538.0,334.3 541.0,333.1 544.0,331.8 547.0,330.4 550.0,329.0 553.0,327.6 556.0,326.3 559.0,325.2 562.0,324.2 565.0,323.2 568.0,322.4 571.0,321.5 574.0,320.7 577.0,319.9 580.0,319.0 583.0,318.0 586.0,316.9 589.0,315.8 592.0,314.6 595.0,313.4 598.0,312.1 601.0,310.8 604.0,309.6 607.0,308.4 610.0,307.2 613.0,305.8 616.0,304.4 619.0,303.2 622.0,302.5 625.0,302.4 628.0,302.7 631.0,303.2 634.0,303.8 637.0,304.4 640.0,304.9 643.0,305.3 646.0,305.4 649.0,305.3 652.0,305.0 655.0,304.6 658.0,304.2 661.0,303.7 664.0,303.3 667.0,303.1 670.0,302.9 673.0,302.9 676.0,302.9 679.0,302.9 682.0,302.9 685.0,302.9 688.0,302.9 691.0,303.1 694.0,303.6 697.0,304.3 700.0,305.3 703.0,306.2 706.0,307.2 709.0,308.1 712.0,309.0 715.0,309.8 718.0,310.7 721.0,311.7 724.0,312.6 727.0,313.6 730.0,314.7 733.0,315.8 736.0,317.0 739.0,318.4 742.0,319.8 745.0,321.3 748.0,322.9 751.0,324.4 754.0,325.9 757.0,327.3 760.0,328.7 763.0,330.1 766.0,331.4 769.0,332.7 772.0,333.8 775.0,334.7 778.0,335.5 781.0,336.4 784.0,337.1 787.0,337.6 790.0,337.9 793.0,337.8 796.0,337.6 799.0,337.3 802.0,337.0 805.0,336.7 808.0,336.6 811.0,337.1 814.0,338.5 817.0,340.5 820.0,342.7 823.0,344.8 826.0,346.9 829.0,349.2 832.0,351.6 835.0,354.1 838.0,356.5 841.0,358.8 844.0,360.9 847.0,362.8 850.0,364.6 853.0,366.4 856.0,368.2 859.0,370.0 862.0,371.9 865.0,373.9 868.0,376.0 871.0,378.3 874.0,380.7 877.0,383.2 880.0,385.7 883.0,388.2 886.0,390.6 889.0,393.0 892.0,395.4 895.0,397.7 898.0,400.0 901.0,402.2 904.0,404.5 907.0,406.7 910.0,409.0 913.0,411.2 916.0,413.3 919.0,415.5 922.0,417.7 925.0,419.9 928.0,422.0 931.0,424.2 934.0,426.2 937.0,428.2 940.0,430.1 943.0,432.0 946.0,433.8 949.0,435.6 952.0,437.3 955.0,438.9 958.0,440.5 961.0,441.9 964.0,443.5 967.0,445.2 970.0,446.6 973.0,447.6 976.0,447.9 979.0,447.6 982.0,447.1 985.0,446.4 988.0,445.6 991.0,444.7 994.0,443.7 997.0,442.4 1000.0,440.9 1003.0,439.2 1006.0,437.4 1009.0,435.5 1012.0,433.4 1015.0,431.3 1018.0,429.1 1021.0,426.9 1024.0,424.7 1027.0,422.4 1030.0,419.8 1033.0,417.1 1036.0,414.3 1039.0,411.6 1042.0,409.0 1045.0,406.4 1048.0,403.8 1051.0,401.3 1054.0,398.9 1057.0,396.6 1060.0,394.5 1063.0,392.5 1066.0,390.5 1069.0,388.6 1072.0,386.5 1075.0,384.4 1078.0,382.1 1081.0,379.9 1084.0,377.6 1087.0,375.2 1090.0,372.7 1093.0,370.1 1096.0,367.3 1099.0,364.2 1102.0,360.9 1105.0,357.1 1108.0,352.7 1111.0,347.5 1114.0,341.9 1117.0,336.2 1120.0,331.0 1123.0,326.2 1126.0,321.7 1129.0,317.3 1132.0,312.9 1135.0,308.4 1138.0,303.9 1141.0,299.4 1144.0,294.9 1147.0,290.4 1150.0,285.9 1153.0,281.5 1156.0,277.0 1159.0,272.6 1162.0,268.1 1165.0,263.5 1168.0,258.6 1171.0,253.3 1174.0,248.1 1177.0,243.0 1180.0,238.4 1183.0,234.2 1186.0,230.1 1189.0,226.7 1192.0,224.0 1195.0,221.6 1198.0,220.1 1201.0,220.8 1204.0,224.0 1207.0,227.7 1210.0,230.3 1213.0,232.8 1216.0,235.1 1219.0,237.3 1222.0,239.3 1225.0,241.0 1228.0,242.4 1231.0,243.7 1234.0,244.9 1237.0,246.2 1240.0,247.8 1243.0,249.8 1246.0,252.2 1249.0,254.8 1252.0,257.5 1255.0,260.2 1258.0,262.8 1261.0,265.2 1264.0,267.7 1267.0,270.4 1270.0,273.6 1273.0,277.7 1276.0,283.2 1279.0,289.3 1282.0,295.0 1285.0,300.6 1288.0,306.2 1291.0,311.9 1294.0,317.5 1297.0,323.0 1300.0,328.6 1303.0,334.6 1306.0,340.9 1309.0,347.8 1312.0,355.1 1315.0,362.4 1318.0,369.5 1321.0,376.7 1324.0,383.8 1327.0,390.9 1330.0,398.0 1333.0,405.2 1335.2,410.3" fill="none" stroke="#ffa500" stroke-width="1" />
<polyline points="7.0,427.1 10.0,427.1 13.0,426.9 16.0,426.7 19.0,426.5 22.0,426.1 25.0,425.7 28.0,425.3 31.0,424.8 34.0,424.3 37.0,423.8 40.0,423.2 43.0,422.2 46.0,421.1 49.0,420.1 52.0,419.2 55.0,418.5 58.0,417.9 61.0,417.3 64.0,416.7 67.0,416.1 70.0,415.4 73.0,414.8 76.0,414.0 79.0,413.1 82.0,412.0 85.0,410.9 88.0,409.7 91.0,408.5 94.0,407.4 97.0,406.2 100.0,405.2 103.0,404.3 106.0,403.5 109.0,402.8 112.0,402.2 115.0,401.7 118.0,401.2 121.0,400.7 124.0,400.2 127.0,399.7 130.0,399.2 133.0,398.6 136.0,398.1 139.0,397.5 142.0,397.0 145.0,396.5 148.0,395.9 151.0,395.3 154.0,394.6 157.0,393.9 160.0,393.0 163.0,391.9 166.0,390.5 169.0,388.9 172.0,387.3 175.0,385.6 178.0,384.0 181.0,382.2 184.0,380.4 187.0,378.6 190.0,376.8 193.0,375.0 196.0,373.3 199.0,371.6 202.0,370.1 205.0,368.5 208.0,367.1 211.0,365.6 214.0,364.2 217.0,362.9 220.0,361.5 223.0,360.2 226.0,358.9 229.0,357.6 232.0,356.3 235.0,355.0 238.0,353.8 241.0,352.5 244.0,351.4 247.0,350.3 250.0,349.3 253.0,348.4 256.0,347.5 259.0,346.7 262.0,345.9 265.0,345.1 268.0,344.4 271.0,343.6 274.0,342.8 277.0,341.9 280.0,340.8 283.0,339.7 286.0,338.7 289.0,338.1 292.0,337.9 295.0,337.7 298.0,337.6 301.0,337.5 304.0,337.4 307.0,337.3 310.0,337.2 313.0,337.2 316.0,337.2 319.0,337.2 322.0,337.3 325.0,337.3 328.0,337.4 331.0,337.4 334.0,337.5 337.0,337.6 340.0,337.7 343.0,337.8 346.0,337.9 349.0,337.9 352.0,338.0 355.0,338.1 358.0,338.2 361.0,338.3 364.0,338.5 367.0,338.6 370.0,338.7 373.0,338.8 376.0,338.9 379.0,339.0 382.0,339.1 385.0,339.2 388.0,339.2 391.0,339.2 394.0,339.2 397.0,339.0 400.0,338.9 403.0,338.7 406.0,338.5 409.0,338.2 412.0,337.9 415.0,337.6 418.0,337.3 421.0,337.1 424.0,336.8 427.0,336.5 430.0,336.2 433.0,336.0 436.0,336.0 439.0,336.3 442.0,336.7 445.0,337.1 448.0,337.6 451.0,338.0 454.0,338.4 457.0,338.6 460.0,338.6 463.0,338.6 466.0,338.6 469.0,338.6 472.0,338.6 475.0,338.6 478.0,338.6 481.0,338.6 484.0,338.6 487.0,338.6 490.0,338.6 493.0,338.6 496.0,338.6 499.0,338.5 502.0,338.2 505.0,337.7 508.0,337.1 511.0,336.4 514.0,335.7 517.0,335.0 520.0,334.3 523.0,333.7 526.0,333.0 529.0,332.2 532.0,331.5 535.0,330.7 538.0,329.9 541.0,329.1 544.0,328.4 547.0,327.6 550.0,326.9 553.0,326.2 556.0,325.4 559.0,324.7 562.0,324.0 565.0,323.3 568.0,322.5 571.0,321.7 574.0,320.9 577.0,320.0 580.0,319.0 583.0,317.8 586.0,316.7 589.0,315.5 592.0,314.5 595.0,313.6 598.0,312.9 601.0,312.2 604.0,311.5 607.0,310.9 610.0,310.6 613.0,310.4 616.0,310.4 619.0,310.5 622.0,310.5 625.0,310.6 628.0,310.8 631.0,310.9 634.0,311.1 637.0,311.6 640.0,312.1 643.0,312.8 646.0,313.5 649.0,314.3 652.0,315.1 655.0,315.8 658.0,316.6 661.0,317.3 664.0,318.0 667.0,318.8 670.0,319.5 673.0,320.3 676.0,321.1 679.0,321.8 682.0,322.6 685.0,323.3 688.0,324.1 691.0,324.9 694.0,325.7 697.0,326.5 700.0,327.2 703.0,327.8 706.0,328.3 709.0,328.7 712.0,329.0 715.0,329.3 718.0,329.6 721.0,329.9 724.0,330.1 727.0,330.2 730.0,330.3 733.0,330.4 736.0,330.3 739.0,330.1 742.0,329.8 745.0,329.4 748.0,329.0 751.0,328.6 754.0,328.3 757.0,328.0 760.0,327.8 763.0,327.6 766.0,327.4 769.0,327.3 772.0,327.2 775.0,327.1 778.0,326.9 781.0,326.8 784.0,326.6 787.0,326.3 790.0,325.9 793.0,325.5 796.0,325.1 799.0,324.8 802.0,324.6 805.0,324.6 808.0,324.7 811.0,324.8 814.0,324.9 817.0,325.0 820.0,325.2 823.0,325.4 826.0,325.9 829.0,326.9 832.0,328.2 835.0,329.6 838.0,330.9 841.0,331.9 844.0,332.6 847.0,333.4 850.0,334.3 853.0,335.3 856.0,336.2 859.0,337.2 862.0,338.3 865.0,339.3 868.0,340.3 871.0,341.4 874.0,342.5 877.0,343.5 880.0,344.6 883.0,345.6 886.0,346.6 889.0,347.5 892.0,348.5 895.0,349.4 898.0,350.4 901.0,351.3 904.0,352.3 907.0,353.2 910.0,354.2 913.0,355.1 916.0,356.0 919.0,356.9 922.0,357.8 925.0,358.7 928.0,359.5 931.0,360.3 934.0,361.0 937.0,361.7 940.0,362.4 943.0,363.0 946.0,363.6 949.0,364.1 952.0,364.7 955.0,365.2 958.0,365.7 961.0,366.1 964.0,366.6 967.0,367.1 970.0,367.5 973.0,367.9 976.0,368.4 979.0,368.8 982.0,369.2 985.0,369.7 988.0,370.1 991.0,370.6 994.0,371.0 997.0,371.4 1000.0,371.8 1003.0,372.2 1006.0,372.6 1009.0,373.1 1012.0,373.5 1015.0,374.0 1018.0,374.5 1021.0,375.1 1024.0,375.7 1027.0,376.3 1030.0,376.9 1033.0,377.6 1036.0,378.2 1039.0,378.8 1042.0,379.4 1045.0,380.1 1048.0,380.8 1051.0,381.6 1054.0,382.2 1057.0,382.6 1060.0,382.8 1063.0,382.8 1066.0,382.8 1069.0,382.8 1072.0,382.8 1075.0,382.8 1078.0,382.8 1081.0,382.8 1084.0,382.8 1087.0,382.8 1090.0,382.8 1093.0,382.8 1096.0,382.8 1099.0,382.7 1102.0,382.0 1105.0,381.0 1108.0,379.8 1111.0,378.3 1114.0,376.7 1117.0,375.0 1120.0,373.5 1123.0,372.2 1126.0,370.9 1129.0,369.7 1132.0,368.4 1135.0,367.2 1138.0,365.9 1141.0,364.5 1144.0,363.1 1147.0,361.6 1150.0,360.0 1153.0,358.4 1156.0,356.7 1159.0,355.1 1162.0,353.4 1165.0,351.8 1168.0,350.1 1171.0,348.3 1174.0,346.4 1177.0,344.6 1180.0,342.9 1183.0,341.4 1186.0,340.1 1189.0,338.8 1192.0,337.5 1195.0,336.5 1198.0,335.9 1201.0,336.1 1204.0,337.3 1207.0,338.8 1210.0,340.1 1213.0,341.6 1216.0,343.1 1219.0,344.4 1222.0,345.4 1225.0,346.1 1228.0,346.7 1231.0,347.4 1234.0,348.0 1237.0,348.9 1240.0,350.0 1243.0,351.0 1246.0,351.9 1249.0,352.2 1252.0,352.4 1255.0,352.5 1258.0,352.6 1261.0,352.7 1264.0,352.8 1267.0,352.9 1270.0,353.0 1273.0,353.0 1276.0,353.1 1279.0,353.1 1282.0,353.2 1285.0,353.2 1288.0,353.3 1291.0,353.4 1294.0,353.5 1297.0,353.6 1300.0,353.7 1303.0,353.9 1306.0,354.0 1309.0,354.2 1312.0,354.3 1315.0,354.5 1318.0,354.7 1321.0,354.9 1324.0,355.1 1327.0,355.3 1330.0,355.5 1333.0,355.8 1333.9,355.8" fill="none" stroke="#ff00ff" stroke-width="1" />
<rect x="6" y="127" width="1680" height="2" fill="#ff0000"/>
<rect x="6" y="308" width="1680" height="2" fill="#ff0000"/>
<rect x="6" y="520" width="1680" height="1" fill="#778899"/>
<rect x="6" y="512" width="1680" height="2" fill="#32cd32"/>
<rect x="6" y="661" width="1" height="23" fill="#c0c0c0"/>
<rect x="14" y="661" width="1" height="23" fill="#c0c0c0"/>
<rect x="22" y="659" width="1" height="25" fill="#c0c0c0"/>
<rect x="30" y="658" width="1" height="26" fill="#c0c0c0"/>
<rect x="38" y="659" width="1" height="25" fill="#c0c0c0"/>
<rect x="46" y="656" width="1" height="28" fill="#c0c0c0"/>
<rect x="54" y="661" width="1" height="23" fill="#c0c0c0"/>
<rect x="62" y="670" width="1" height="14" fill="#c0c0c0"/>
<rect x="70" y="680" width="1" height="4" fill="#c0c0c0"/>
<rect x="78" y="684" width="1" height="2" fill="#c0c0c0"/>
<rect x="86" y="684" width="1" height="3" fill="#c0c0c0"/>
<rect x="94" y="684" width="1" height="6" fill="#c0c0c0"/>
<rect x="102" y="684" width="1" height="10" fill="#c0c0c0"/>
<rect x="110" y="684" width="1" height="11" fill="#c0c0c0"/>
<rect x="118" y="684" width="1" height="13" fill="#c0c0c0"/>
<rect x="126" y="684" width="1" height="15" fill="#c0c0c0"/>
<rect x="134" y="684" width="1" height="13" fill="#c0c0c0"/>
<rect x="142" y="684" width="1" height="12" fill="#c0c0c0"/>
<rect x="150" y="684" width="1" height="11" fill="#c0c0c0"/>
<rect x="158" y="684" width="1" height="10" fill="#c0c0c0"/>
<rect x="166" y="684" width="1" height="7" fill="#c0c0c0"/>
<rect x="174" y="683" width="1" height="1" fill="#c0c0c0"/>
<rect x="182" y="678" width="1" height="6" fill="#c0c0c0"/>
<rect x="190" y="672" width="1" height="12" fill="#c0c0c0"/>
<rect x="198" y="665" width="1" height="19" fill="#c0c0c0"/>
<rect x="206" y="657" width="1" height="27" fill="#c0c0c0"/>
<rect x="214" y="651" width="1" height="33" fill="#c0c0c0"/>
<rect x="222" y="647" width="1" height="37" fill="#c0c0c0"/>
<rect x="230" y="645" width="1" height="39" fill="#c0c0c0"/>
<rect x="238" y="644" width="1" height="40" fill="#c0c0c0"/>
<rect x="246" y="644" width="1" height="40" fill="#c0c0c0"/>
<rect x="254" y="645" width="1" height="39" fill="#c0c0c0"/>
<rect x="262" y="646" width="1" height="38" fill="#c0c0c0"/>
<rect x="270" y="651" width="1" height="33" fill="#c0c0c0"/>
<rect x="278" y="654" width="1" height="30" fill="#c0c0c0"/>
<rect x="286" y="655" width="1" height="29" fill="#c0c0c0"/>
<rect x="294" y="667" width="1" height="17" fill="#c0c0c0"/>
<rect x="302" y="676" width="1" height="8" fill="#c0c0c0"/>
<rect x="318" y="684" width="1" height="4" fill="#c0c0c0"/>
<rect x="326" y="684" width="1" height="8" fill="#c0c0c0"/>
<rect x="334" y="684" width="1" height="9" fill="#c0c0c0"/>
<rect x="342" y="684" width="1" height="9" fill="#c0c0c0"/>
<rect x="350" y="684" width="1" height="10" fill="#c0c0c0"/>
<rect x="358" y="684" width="1" height="11" fill="#c0c0c0"/>
<rect x="366" y="684" width="1" height="12" fill="#c0c0c0"/>
<rect x="374" y="684" width="1" height="11" fill="#c0c0c0"/>
<rect x="382" y="684" width="1" height="14" fill="#c0c0c0"/>
<rect x="390" y="684" width="1" height="11" fill="#c0c0c0"/>
<rect x="398" y="684" width="1" height="8" fill="#c0c0c0"/>
<rect x="406" y="684" width="1" height="6" fill="#c0c0c0"/>
<rect x="414" y="684" width="1" height="4" fill="#c0c0c0"/>
<rect x="422" y="684" width="1" height="1" fill="#c0c0c0"/>
<rect x="438" y="683" width="1" height="1" fill="#c0c0c0"/>
<rect x="446" y="683" width="1" height="1" fill="#c0c0c0"/>
<rect x="454" y="684" width="1" height="2" fill="#c0c0c0"/>
<rect x="462" y="684" width="1" height="3" fill="#c0c0c0"/>
<rect x="470" y="683" width="1" height="1" fill="#c0c0c0"/>
<rect x="478" y="682" width="1" height="2" fill="#c0c0c0"/>
<rect x="486" y="681" width="1" height="3" fill="#c0c0c0"/>
<rect x="510" y="684" width="1" height="1" fill="#c0c0c0"/>
<rect x="518" y="684" width="1" height="1" fill="#c0c0c0"/>
<rect x="526" y="684" width="1" height="1" fill="#c0c0c0"/>
<rect x="542" y="683" width="1" height="1" fill="#c0c0c0"/>
<rect x="550" y="680" width="1" height="4" fill="#c0c0c0"/>
<rect x="558" y="676" width="1" height="8" fill="#c0c0c0"/>
<rect x="566" y="672" width="1" height="12" fill="#c0c0c0"/>
<rect x="574" y="671" width="1" height="13" fill="#c0c0c0"/>
<rect x="582" y="666" width="1" height="18" fill="#c0c0c0"/>
<rect x="590" y="663" width="1" height="21" fill="#c0c0c0"/>
<rect x="598" y="662" width="1" height="22" fill="#c0c0c0"/>
<rect x="606" y="665" width="1" height="19" fill="#c0c0c0"/>
<rect x="614" y="665" width="1" height="19" fill="#c0c0c0"/>
<rect x="622" y="667" width="1" height="17" fill="#c0c0c0"/>
<rect x="630" y="674" width="1" height="10" fill="#c0c0c0"/>
<rect x="638" y="678" width="1" height="6" fill="#c0c0c0"/>
<rect x="646" y="681" width="1" height="3" fill="#c0c0c0"/>
<rect x="654" y="683" width="1" height="1" fill="#c0c0c0"/>
<rect x="678" y="684" width="1" height="3" fill="#c0c0c0"/>
<rect x="686" y="684" width="1" height="5" fill="#c0c0c0"/>
<rect x="694" y="684" width="1" height="8" fill="#c0c0c0"/>
<rect x="702" y="684" width="1" height="11" fill="#c0c0c0"/>
<rect x="710" y="684" width="1" height="11" fill="#c0c0c0"/>
<rect x="718" y="684" width="1" height="11" fill="#c0c0c0"/>
<rect x="726" y="684" width="1" height="10" fill="#c0c0c0"/>
<rect x="734" y="684" width="1" height="9" fill="#c0c0c0"/>
<rect x="742" y="684" width="1" height="9" fill="#c0c0c0"/>
<rect x="750" y="684" width="1" height="7" fill="#c0c0c0"/>
<rect x="758" y="684" width="1" height="7" fill="#c0c0c0"/>
<rect x="766" y="684" width="1" height="7" fill="#c0c0c0"/>
<rect x="774" y="684" width="1" height="4" fill="#c0c0c0"/>
<rect x="782" y="684" width="1" height="3" fill="#c0c0c0"/>
<rect x="790" y="684" width="1" height="3" fill="#c0c0c0"/>
<rect x="798" y="684" width="1" height="2" fill="#c0c0c0"/>
<rect x="806" y="684" width="1" height="1" fill="#c0c0c0"/>
<rect x="814" y="684" width="1" height="6" fill="#c0c0c0"/>
<rect x="822" y="684" width="1" height="14" fill="#c0c0c0"/>
<rect x="830" y="684" width="1" height="22" fill="#c0c0c0"/>
<rect x="838" y="684" width="1" height="27" fill="#c0c0c0"/>
<rect x="846" y="684" width="1" height="29" fill="#c0c0c0"/>
<rect x="854" y="684" width="1" height="31" fill="#c0c0c0"/>
<rect x="862" y="684" width="1" height="36" fill="#c0c0c0"/>
<rect x="870" y="684" width="1" height="41" fill="#c0c0c0"/>
<rect x="878" y="684" width="1" height="43" fill="#c0c0c0"/>
<rect x="886" y="684" width="1" height="45" fill="#c0c0c0"/>
<rect x="894" y="684" width="1" height="43" fill="#c0c0c0"/>
<rect x="902" y="684" width="1" height="43" fill="#c0c0c0"/>
<rect x="910" y="684" width="1" height="40" fill="#c0c0c0"/>
<rect x="918" y="684" width="1" height="36" fill="#c0c0c0"/>
<rect x="926" y="684" width="1" height="33" fill="#c0c0c0"/>
<rect x="934" y="684" width="1" height="31" fill="#c0c0c0"/>
<rect x="942" y="684" width="1" height="27" fill="#c0c0c0"/>
<rect x="950" y="684" width="1" height="23" fill="#c0c0c0"/>
<rect x="958" y="684" width="1" height="18" fill="#c0c0c0"/>
<rect x="966" y="684" width="1" height="13" fill="#c0c0c0"/>
<rect x="974" y="684" width="1" height="7" fill="#c0c0c0"/>
<rect x="982" y="684" width="1" height="3" fill="#c0c0c0"/>
<rect x="1006" y="679" width="1" height="5" fill="#c0c0c0"/>
<rect x="1014" y="673" width="1" height="11" fill="#c0c0c0"/>
<rect x="1022" y="668" width="1" height="16" fill="#c0c0c0"/>
<rect x="1030" y="662" width="1" height="22" fill="#c0c0c0"/>
<rect x="1038" y="664" width="1" height="20" fill="#c0c0c0"/>
<rect x="1046" y="668" width="1" height="16" fill="#c0c0c0"/>
<rect x="1054" y="667" width="1" height="17" fill="#c0c0c0"/>
<rect x="1062" y="666" width="1" height="18" fill="#c0c0c0"/>
<rect x="1070" y="667" width="1" height="17" fill="#c0c0c0"/>
<rect x="1078" y="666" width="1" height="18" fill="#c0c0c0"/>
<rect x="1086" y="664" width="1" height="20" fill="#c0c0c0"/>
<rect x="1094" y="662" width="1" height="22" fill="#c0c0c0"/>
<rect x="1102" y="657" width="1" height="27" fill="#c0c0c0"/>
<rect x="1110" y="643" width="1" height="41" fill="#c0c0c0"/>
<rect x="1118" y="632" width="1" height="52" fill="#c0c0c0"/>
<rect x="1126" y="625" width="1" height="59" fill="#c0c0c0"/>
<rect x="1134" y="623" width="1" height="61" fill="#c0c0c0"/>
<rect x="1142" y="618" width="1" height="66" fill="#c0c0c0"/>
<rect x="1150" y="613" width="1" height="71" fill="#c0c0c0"/>
<rect x="1158" y="612" width="1" height="72" fill="#c0c0c0"/>
<rect x="1166" y="610" width="1" height="74" fill="#c0c0c0"/>
<rect x="1174" y="608" width="1" height="76" fill="#c0c0c0"/>
<rect x="1182" y="606" width="1" height="78" fill="#c0c0c0"/>
<rect x="1190" y="606" width="1" height="78" fill="#c0c0c0"/>
<rect x="1198" y="615" width="1" height="69" fill="#c0c0c0"/>
<rect x="1206" y="652" width="1" height="32" fill="#c0c0c0"/>
<rect x="1214" y="679" width="1" height="5" fill="#c0c0c0"/>
<rect x="1222" y="684" width="1" height="14" fill="#c0c0c0"/>
<rect x="1230" y="684" width="1" height="25" fill="#c0c0c0"/>
<rect x="1238" y="684" width="1" height="32" fill="#c0c0c0"/>
<rect x="1246" y="684" width="1" height="40" fill="#c0c0c0"/>
<rect x="1254" y="684" width="1" height="44" fill="#c0c0c0"/>
<rect x="1262" y="684" width="1" height="49" fill="#c0c0c0"/>
<rect x="1270" y="684" width="1" height="52" fill="#c0c0c0"/>
<rect x="1278" y="684" width="1" height="52" fill="#c0c0c0"/>
<rect x="1286" y="684" width="1" height="54" fill="#c0c0c0"/>
<rect x="1294" y="684" width="1" height="54" fill="#c0c0c0"/>
<rect x="1302" y="684" width="1" height="59" fill="#c0c0c0"/>
<rect x="1310" y="684" width="1" height="62" fill="#c0c0c0"/>
<rect x="1318" y="684" width="1" height="63" fill="#c0c0c0"/>
<rect x="1326" y="684" width="1" height="63" fill="#c0c0c0"/>
<rect x="1334" y="684" width="1" height="63" fill="#c0c0c0"/>
<polyline points="7.0,661.4 10.0,661.4 13.0,661.4 16.0,661.4 19.0,661.4 22.0,661.5 25.0,661.5 28.0,661.5 31.0,661.5 34.0,661.5 37.0,661.5 40.0,661.6 43.0,661.6 46.0,661.6 49.0,661.7 52.0,661.7 55.0,661.7 58.0,661.8 61.0,661.8 64.0,661.9 67.0,662.0 70.0,662.5 73.0,663.3 76.0,664.1 79.0,665.0 82.0,666.0 85.0,667.1 88.0,668.4 91.0,669.7 94.0,671.1 97.0,672.5 100.0,674.0 103.0,675.5 106.0,677.2 109.0,679.0 112.0,680.8 115.0,682.5 118.0,684.2 121.0,685.9 124.0,687.5 127.0,689.1 130.0,690.5 133.0,691.7 136.0,692.7 139.0,693.7 142.0,694.6 145.0,695.3 148.0,695.8 151.0,695.9 154.0,695.9 157.0,695.8 160.0,695.8 163.0,695.7 166.0,695.6 169.0,695.5 172.0,695.3 175.0,694.9 178.0,694.2 181.0,693.4 184.0,692.5 187.0,691.5 190.0,690.5 193.0,689.5 196.0,688.3 199.0,686.9 202.0,685.5 205.0,683.9 208.0,682.3 211.0,680.5 214.0,678.5 217.0,676.4 220.0,674.2 223.0,672.0 226.0,669.9 229.0,667.9 232.0,665.8 235.0,663.8 238.0,661.9 241.0,660.0 244.0,658.0 247.0,656.1 250.0,654.2 253.0,652.5 256.0,651.1 259.0,650.1 262.0,649.3 265.0,648.7 268.0,648.2 271.0,647.6 274.0,647.2 277.0,647.0 280.0,647.0 283.0,647.3 286.0,647.7 289.0,648.2 292.0,648.9 295.0,649.9 298.0,651.0 301.0,652.3 304.0,653.7 307.0,655.3 310.0,656.9 313.0,658.6 316.0,660.4 319.0,662.3 322.0,664.4 325.0,666.5 328.0,668.6 331.0,670.6 334.0,672.5 337.0,674.4 340.0,676.4 343.0,678.2 346.0,680.0 349.0,681.8 352.0,683.4 355.0,685.1 358.0,686.8 361.0,688.3 364.0,689.7 367.0,690.7 370.0,691.5 373.0,692.3 376.0,693.0 379.0,693.6 382.0,694.0 385.0,694.1 388.0,694.1 391.0,694.1 394.0,694.1 397.0,694.1 400.0,694.1 403.0,694.1 406.0,694.1 409.0,694.1 412.0,694.1 415.0,694.1 418.0,694.0 421.0,693.7 424.0,693.3 427.0,692.7 430.0,692.2 433.0,691.7 436.0,691.3 439.0,690.9 442.0,690.5 445.0,690.1 448.0,689.7 451.0,689.4 454.0,689.0 457.0,688.6 460.0,688.2 463.0,687.8 466.0,687.3 469.0,686.9 472.0,686.4 475.0,686.0 478.0,685.7 481.0,685.5 484.0,685.4 487.0,685.3 490.0,685.3 493.0,685.2 496.0,685.2 499.0,685.2 502.0,685.2 505.0,685.1 508.0,685.1 511.0,685.1 514.0,685.1 517.0,685.1 520.0,685.0 523.0,685.0 526.0,684.9 529.0,684.9 532.0,684.8 535.0,684.7 538.0,684.6 541.0,684.5 544.0,684.3 547.0,684.1 550.0,683.9 553.0,683.7 556.0,683.4 559.0,683.1 562.0,682.7 565.0,682.2 568.0,681.7 571.0,681.2 574.0,680.5 577.0,679.7 580.0,678.9 583.0,678.0 586.0,677.1 589.0,676.1 592.0,675.0 595.0,674.0 598.0,673.0 601.0,672.2 604.0,671.3 607.0,670.6 610.0,669.9 613.0,669.2 616.0,668.6 619.0,668.0 622.0,667.5 625.0,667.1 628.0,666.9 631.0,667.0 634.0,667.2 637.0,667.5 640.0,667.8 643.0,668.2 646.0,668.7 649.0,669.4 652.0,670.1 655.0,670.8 658.0,671.6 661.0,672.4 664.0,673.3 667.0,674.2 670.0,675.2 673.0,676.1 676.0,677.2 679.0,678.2 682.0,679.2 685.0,680.4 688.0,681.5 691.0,682.6 694.0,683.6 697.0,684.5 700.0,685.3 703.0,686.1 706.0,686.8 709.0,687.5 712.0,688.1 715.0,688.8 718.0,689.5 721.0,690.1 724.0,690.7 727.0,691.3 730.0,691.9 733.0,692.4 736.0,692.8 739.0,693.3 742.0,693.7 745.0,693.9 748.0,693.9 751.0,693.9 754.0,693.9 757.0,693.9 760.0,693.9 763.0,693.8 766.0,693.8 769.0,693.8 772.0,693.7 775.0,693.7 778.0,693.6 781.0,693.5 784.0,693.2 787.0,692.7 790.0,692.2 793.0,691.7 796.0,691.4 799.0,691.0 802.0,690.6 805.0,690.3 808.0,690.2 811.0,690.2 814.0,690.2 817.0,690.2 820.0,690.2 823.0,690.2 826.0,690.2 829.0,690.5 832.0,691.3 835.0,692.4 838.0,693.4 841.0,694.3 844.0,695.4 847.0,696.6 850.0,697.8 853.0,699.1 856.0,700.4 859.0,701.7 862.0,703.1 865.0,704.6 868.0,706.2 871.0,708.0 874.0,709.9 877.0,711.8 880.0,713.4 883.0,714.8 886.0,716.1 889.0,717.3 892.0,718.6 895.0,720.0 898.0,721.4 901.0,722.6 904.0,723.4 907.0,723.8 910.0,724.1 913.0,724.4 916.0,724.6 919.0,724.8 922.0,724.8 925.0,724.9 928.0,724.7 931.0,724.3 934.0,723.8 937.0,723.2 940.0,722.6 943.0,722.1 946.0,721.4 949.0,720.7 952.0,720.0 955.0,719.1 958.0,718.1 961.0,716.8 964.0,715.4 967.0,713.9 970.0,712.3 973.0,710.8 976.0,709.2 979.0,707.6 982.0,706.0 985.0,704.3 988.0,702.7 991.0,701.1 994.0,699.5 997.0,698.0 1000.0,696.6 1003.0,695.1 1006.0,693.6 1009.0,692.1 1012.0,690.6 1015.0,689.0 1018.0,687.3 1021.0,685.7 1024.0,684.1 1027.0,682.5 1030.0,681.1 1033.0,679.8 1036.0,678.4 1039.0,677.2 1042.0,676.1 1045.0,675.0 1048.0,674.1 1051.0,673.2 1054.0,672.3 1057.0,671.5 1060.0,670.7 1063.0,670.0 1066.0,669.3 1069.0,668.6 1072.0,668.0 1075.0,667.4 1078.0,666.8 1081.0,666.3 1084.0,665.9 1087.0,665.6 1090.0,665.2 1093.0,664.9 1096.0,664.6 1099.0,664.2 1102.0,663.7 1105.0,663.2 1108.0,662.5 1111.0,661.5 1114.0,660.2 1117.0,658.8 1120.0,657.3 1123.0,655.8 1126.0,654.2 1129.0,652.5 1132.0,650.7 1135.0,648.7 1138.0,646.7 1141.0,644.5 1144.0,642.2 1147.0,639.9 1150.0,637.6 1153.0,635.5 1156.0,633.4 1159.0,631.5 1162.0,629.5 1165.0,627.5 1168.0,625.4 1171.0,623.2 1174.0,621.0 1177.0,619.0 1180.0,617.3 1183.0,615.8 1186.0,614.6 1189.0,613.4 1192.0,612.5 1195.0,611.9 1198.0,612.0 1201.0,612.6 1204.0,613.5 1207.0,615.2 1210.0,617.1 1213.0,619.5 1216.0,622.4 1219.0,625.5 1222.0,629.0 1225.0,633.1 1228.0,637.8 1231.0,642.6 1234.0,647.2 1237.0,651.7 1240.0,656.0 1243.0,660.5 1246.0,665.0 1249.0,669.8 1252.0,674.9 1255.0,680.2 1258.0,685.6 1261.0,691.0 1264.0,696.7 1267.0,702.3 1270.0,707.5 1273.0,711.9 1276.0,716.0 1279.0,719.6 1282.0,722.4 1285.0,724.4 1288.0,726.1 1291.0,727.5 1294.0,728.8 1297.0,730.4 1300.0,732.6 1303.0,734.0 1306.0,735.3 1309.0,736.4 1312.0,737.3 1315.0,738.2 1318.0,739.1 1321.0,740.0 1324.0,740.8 1327.0,741.5 1330.0,742.2 1332.9,742.8" fill="none" stroke="#ff0000" stroke-width="1" stroke-dasharray="3 3"/>
<line x1="6" x2="1686" y1="793.5" y2="793.5" stroke="#c0c0c0" stroke-dasharray="3 3"/>
<line x1="6" x2="1686" y1="838.5" y2="838.5" stroke="#c0c0c0" stroke-dasharray="3 3"/>
<polyline points="6.5,803.5 14.5,806.9 22.5,805.0 30.5,805.9 38.5,808.9 46.5,803.0 54.5,815.4 62.5,824.4 70.5,828.9 78.5,826.9 86.5,819.9 94.5,821.9 102.5,823.9 110.5,822.9 118.5,822.9 126.5,823.9 134.5,819.4 142.5,817.9 150.5,820.9 158.5,816.4 166.5,814.9 174.5,803.5 182.5,802.0 190.5,802.0 198.5,798.0 206.5,793.5 214.5,793.0 222.5,796.0 230.5,797.0 238.5,799.0 246.5,801.0 254.5,801.0 262.5,799.0 270.5,815.4 278.5,809.4 286.5,807.9 294.5,828.4 302.5,829.9 310.5,828.9 318.5,826.9 326.5,826.9 334.5,822.4 342.5,818.9 350.5,821.9 358.5,822.9 366.5,823.9 374.5,819.4 382.5,827.9 390.5,815.9 398.5,813.9 406.5,813.9 414.5,814.9 422.5,810.9 430.5,810.9 438.5,819.4 446.5,817.9 454.5,819.9 462.5,819.9 470.5,810.9 478.5,807.9 486.5,812.9 494.5,820.9 502.5,817.9 510.5,819.9 518.5,820.9 526.5,814.9 534.5,809.9 542.5,810.9 550.5,809.9 558.5,803.0 566.5,801.0 574.5,806.9 582.5,799.0 590.5,800.0 598.5,805.0 606.5,813.9 614.5,808.9 622.5,813.9 630.5,825.9 638.5,821.9 646.5,821.9 654.5,819.9 662.5,817.9 670.5,815.9 678.5,826.9 686.5,821.9 694.5,825.9 702.5,825.9 710.5,823.9 718.5,819.9 726.5,818.9 734.5,820.9 742.5,820.9 750.5,814.9 758.5,818.9 766.5,819.9 774.5,812.9 782.5,813.9 790.5,816.9 798.5,814.9 806.5,815.9 814.5,831.9 822.5,838.9 830.5,841.9 838.5,837.9 846.5,834.9 854.5,834.9 862.5,841.4 870.5,843.9 878.5,841.9 886.5,841.9 894.5,830.9 902.5,833.9 910.5,824.9 918.5,823.9 926.5,822.9 934.5,825.9 942.5,819.9 950.5,816.9 958.5,812.9 966.5,809.9 974.5,806.9 982.5,806.9 990.5,808.9 998.5,812.9 1006.5,804.0 1014.5,797.0 1022.5,798.0 1030.5,793.0 1038.5,812.9 1046.5,817.9 1054.5,809.9 1062.5,808.9 1070.5,811.9 1078.5,807.9 1086.5,805.9 1094.5,804.0 1102.5,798.0 1110.5,787.0 1118.5,786.0 1126.5,789.0 1134.5,797.0 1142.5,793.0 1150.5,790.0 1158.5,797.0 1166.5,795.0 1174.5,793.0 1182.5,792.0 1190.5,795.0 1198.5,810.9 1206.5,839.9 1214.5,836.9 1222.5,834.9 1230.5,829.9 1238.5,827.9 1246.5,829.9 1254.5,827.9 1262.5,829.9 1270.5,829.9 1278.5,826.9 1286.5,828.9 1294.5,828.9 1302.5,834.9 1310.5,833.9 1318.5,833.9 1326.5,831.9 1334.5,832.9" fill="none" stroke="#1e90ff" stroke-width="1" />
<rect x="3" y="29" width="2" height="865" fill="#fff"/>
<g fill="#000">
<rect x="5" y="31" width="1682" height="1"/>
<rect x="5" y="31" width="1" height="564"/>
<rect x="5" y="594" width="1682" height="1"/>
<rect x="1686" y="31" width="1" height="843"/>
<rect x="5" y="596" width="1682" height="1"/>
<rect x="5" y="596" width="1" height="160"/>
<rect x="5" y="755" width="1682" height="1"/>
<rect x="5" y="757" width="1682" height="1"/>
<rect x="5" y="757" width="1" height="117"/>
<rect x="5" y="873" width="1682" height="1"/>
<rect x="1687" y="63" width="3" height="1"/>
<rect x="1687" y="96" width="3" height="1"/>
<rect x="1687" y="129" width="3" height="1"/>
<rect x="1687" y="162" width="3" height="1"/>
<rect x="1687" y="195" width="3" height="1"/>
<rect x="1687" y="228" width="3" height="1"/>
<rect x="1687" y="261" width="3" height="1"/>
<rect x="1687" y="294" width="3" height="1"/>
<rect x="1687" y="327" width="3" height="1"/>
<rect x="1687" y="360" width="3" height="1"/>
<rect x="1687" y="393" width="3" height="1"/>
<rect x="1687" y="426" width="3" height="1"/>
<rect x="1687" y="459" width="3" height="1"/>
<rect x="1687" y="492" width="3" height="1"/>
<rect x="1687" y="525" width="3" height="1"/>
<rect x="1687" y="558" width="3" height="1"/>
<rect x="1687" y="591" width="3" height="1"/>
<rect x="1687" y="598" width="2" height="1"/>
<rect x="1687" y="683" width="2" height="1"/>
<rect x="1687" y="754" width="2" height="1"/>
<rect x="1687" y="759" width="2" height="1"/>
<rect x="1687" y="793" width="2" height="1"/>
<rect x="1687" y="838" width="2" height="1"/>
<rect x="1687" y="872" width="2" height="1"/>
<rect x="6" y="874" width="1" height="3"/>
<rect x="70" y="874" width="1" height="3"/>
<rect x="134" y="874" width="1" height="3"/>
<rect x="198" y="874" width="1" height="3"/>
<rect x="262" y="874" width="1" height="3"/>
<rect x="326" y="874" width="1" height="3"/>
<rect x="390" y="874" width="1" height="3"/>
<rect x="454" y="874" width="1" height="3"/>
<rect x="518" y="874" width="1" height="3"/>
<rect x="582" y="874" width="1" height="3"/>
<rect x="646" y="874" width="1" height="3"/>
<rect x="710" y="874" width="1" height="3"/>
<rect x="774" y="874" width="1" height="3"/>
<rect x="838" y="874" width="1" height="3"/>
<rect x="902" y="874" width="1" height="3"/>
<rect x="966" y="874" width="1" height="3"/>
<rect x="1030" y="874" width="1" height="3"/>
<rect x="1094" y="874" width="1" height="3"/>
<rect x="1158" y="874" width="1" height="3"/>
<rect x="1222" y="874" width="1" height="3"/>
<rect x="1286" y="874" width="1" height="3"/>
</g>
<rect x="1688" y="122" width="41" height="11" fill="#ff0000"/>
<rect x="1688" y="303" width="41" height="11" fill="#ff0000"/>
<rect x="1688" y="515" width="41" height="11" fill="#000"/>
<rect x="1688" y="507" width="41" height="11" fill="#32cd32"/>
<g fill="#ed1c24" shape-rendering="auto" style='font-family:"Liberation Sans","Noto Sans CJK SC",sans-serif'><text x="1378" y="440.9" font-size="33.4" textLength="166.8" lengthAdjust="spacingAndGlyphs">多空转折点</text><text x="1546" y="439.4" font-size="34.7" textLength="77" lengthAdjust="spacingAndGlyphs">1865</text></g>
<path d="M9 38h7l-3.5 4z" fill="#000" shape-rendering="auto"/>
</svg>
<div class="t" style="left:1692.0px;top:59.5px;">1964.40</div>
<div class="t" style="left:1692.0px;top:92.5px;">1957.00</div>
<div class="t" style="left:1692.0px;top:158.5px;">1942.40</div>
<div class="t" style="left:1692.0px;top:191.5px;">1935.20</div>
<div class="t" style="left:1692.0px;top:224.5px;">1928.00</div>
<div class="t" style="left:1692.0px;top:257.5px;">1920.60</div>
<div class="t" style="left:1692.0px;top:290.5px;">1913.40</div>
<div class="t" style="left:1692.0px;top:323.5px;">1906.00</div>
<div class="t" style="left:1692.0px;top:356.5px;">1898.80</div>
<div class="t" style="left:1692.0px;top:389.5px;">1891.40</div>
<div class="t" style="left:1692.0px;top:422.5px;">1884.20</div>
<div class="t" style="left:1692.0px;top:455.5px;">1876.80</div>
<div class="t" style="left:1692.0px;top:488.5px;">1869.60</div>
<div class="t" style="left:1692.0px;top:521.5px;">1862.40</div>
<div class="t" style="left:1692.0px;top:554.5px;">1855.00</div>
<div class="t" style="left:1692.0px;top:587.5px;">1847.80</div>
<div class="abs" style="left:1688px;top:515px;width:41px;height:11px;background:#000"></div>
<div class="t w" style="left:1692.0px;top:516.5px;">1863.40</div>
<div class="abs" style="left:1688px;top:507px;width:41px;height:11px;background:#32cd32"></div>
<div class="t w" style="left:1692.0px;top:508.5px;">1865.00</div>
<div class="t w" style="left:1692.0px;top:124.0px;">1950.00</div>
<div class="t w" style="left:1692.0px;top:304.5px;">1910.00</div>
<div class="t" style="left:1690.0px;top:599.5px;">17.972</div>
<div class="t" style="left:1690.0px;top:679.5px;">0.00</div>
<div class="t" style="left:1690.0px;top:744.5px;">-14.904</div>
<div class="t" style="left:1690.0px;top:760.5px;">100</div>
<div class="t" style="left:1690.0px;top:789.5px;">70</div>
<div class="t" style="left:1690.0px;top:834.5px;">30</div>
<div class="t" style="left:1690.0px;top:862.5px;">0</div>
<div class="t t2" style="left:21.0px;top:35.5px;">XAUUSD-,H4  1864.93 1865.85 1862.45 1863.40</div>
<div class="t t2" style="left:10.0px;top:601.5px;">MACD(12,26,9) -13.336 -12.317</div>
<div class="t t2" style="left:10.0px;top:762.5px;">RSI(14) 35.1917</div>
<div class="t t3" style="left:5.0px;top:878.5px;">5 Oct 2020</div>
<div class="t t3" style="left:69.0px;top:878.5px;">6 Oct 20:00</div>
<div class="t t3" style="left:133.0px;top:878.5px;">8 Oct 04:00</div>
<div class="t t3" style="left:197.0px;top:878.5px;">9 Oct 12:00</div>
<div class="t t3" style="left:261.0px;top:878.5px;">12 Oct 20:00</div>
<div class="t t3" style="left:325.0px;top:878.5px;">14 Oct 04:00</div>
<div class="t t3" style="left:389.0px;top:878.5px;">15 Oct 12:00</div>
<div class="t t3" style="left:453.0px;top:878.5px;">18 Oct 23:00</div>
<div class="t t3" style="left:517.0px;top:878.5px;">20 Oct 04:00</div>
<div class="t t3" style="left:581.0px;top:878.5px;">21 Oct 12:00</div>
<div class="t t3" style="left:645.0px;top:878.5px;">22 Oct 20:00</div>
<div class="t t3" style="left:709.0px;top:878.5px;">26 Oct 04:00</div>
<div class="t t3" style="left:773.0px;top:878.5px;">27 Oct 12:00</div>
<div class="t t3" style="left:837.0px;top:878.5px;">28 Oct 20:00</div>
<div class="t t3" style="left:901.0px;top:878.5px;">30 Oct 04:00</div>
<div class="t t3" style="left:965.0px;top:878.5px;">2 Nov 12:00</div>
<div class="t t3" style="left:1029.0px;top:878.5px;">3 Nov 20:00</div>
<div class="t t3" style="left:1093.0px;top:878.5px;">5 Nov 04:00</div>
<div class="t t3" style="left:1157.0px;top:878.5px;">6 Nov 12:00</div>
<div class="t t3" style="left:1221.0px;top:878.5px;">9 Nov 20:00</div>
<div class="t t3" style="left:1285.0px;top:878.5px;">11 Nov 04:00</div>
</body></html>
